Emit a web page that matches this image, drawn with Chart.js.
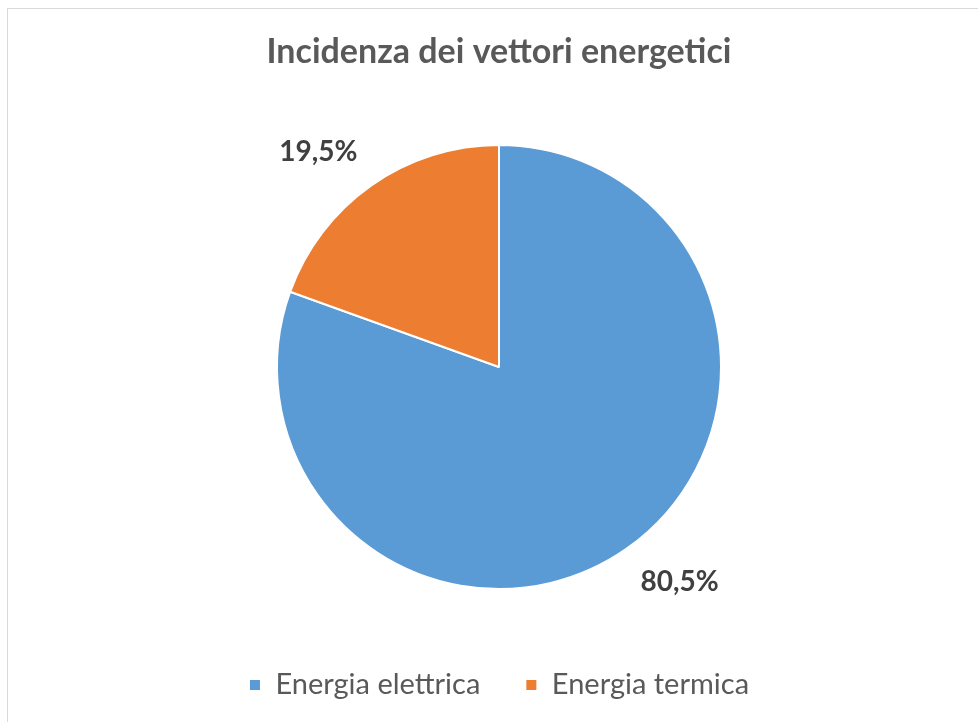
<!DOCTYPE html>
<html>
<head>
<meta charset="utf-8">
<script src="https://cdn.jsdelivr.net/npm/chart.js@4/dist/chart.umd.min.js"></script>
<style>
  html, body { margin: 0; padding: 0; background: #fff; }
  #cornice { position: absolute; left: 7px; top: 8px; width: 1100px; height: 900px; border: 1px solid #d9d9d9; }
  #grafico { position: absolute; left: 0; top: 0; }
</style>
</head>
<body>
<div id="cornice"></div>
<canvas id="grafico" width="978" height="722"></canvas>
<script>
// dati del grafico
const categorie = ['Energia elettrica', 'Energia termica']
const valori = [80.5, 19.5]
const colori = ['#5B9BD5', '#ED7D31']
const titolo = 'Incidenza dei vettori energetici'

// etichette percentuali fuori dalla torta
const etichette = {
    id: 'etichette',
    afterDatasetsDraw(chart) {
        const ctx = chart.ctx
        const meta = chart.getDatasetMeta(0)
        ctx.save()
        ctx.font = 'bold 28px Lato'
        ctx.fillStyle = '#404040'
        meta.data.forEach((arco, i) => {
            const p = arco.getProps(['x', 'y', 'startAngle', 'endAngle', 'outerRadius'], true)
            const a = (p.startAngle + p.endAngle) / 2
            const c = Math.cos(a), s = Math.sin(a)
            const d = p.outerRadius + 24
            ctx.textAlign = c > 0 ? 'left' : 'right'
            ctx.textBaseline = s > 0 ? 'top' : 'bottom'
            const testo = valori[i].toFixed(1).replace('.', ',') + '%'
            ctx.fillText(testo, p.x + c * d, p.y + s * d)
        })
        ctx.restore()
    }
}

const config = {
    type: 'pie',
    data: {
        labels: categorie,
        datasets: [{
            data: valori,
            backgroundColor: colori,
            borderColor: '#ffffff',
            borderWidth: 2,
            radius: 222
        }]
    },
    options: {
        responsive: false,
        animation: false,
        events: [],
        devicePixelRatio: 1,
        layout: {
            padding: { left: 20, right: 0, top: 0, bottom: 12.5 }
        },
        plugins: {
            title: {
                display: true,
                text: titolo,
                color: '#595959',
                font: { family: 'Lato', size: 34, weight: 'bold', lineHeight: 1.2 },
                padding: { top: 31.6, bottom: 36.1 }
            },
            legend: {
                position: 'bottom',
                labels: {
                    color: '#595959',
                    font: { family: 'Lato', size: 29 },
                    boxWidth: 12,
                    boxHeight: 12,
                    padding: 45
                }
            },
            tooltip: { enabled: false }
        }
    },
    plugins: [etichette]
}

new Chart(document.getElementById('grafico'), config)
</script>
</body>
</html>
